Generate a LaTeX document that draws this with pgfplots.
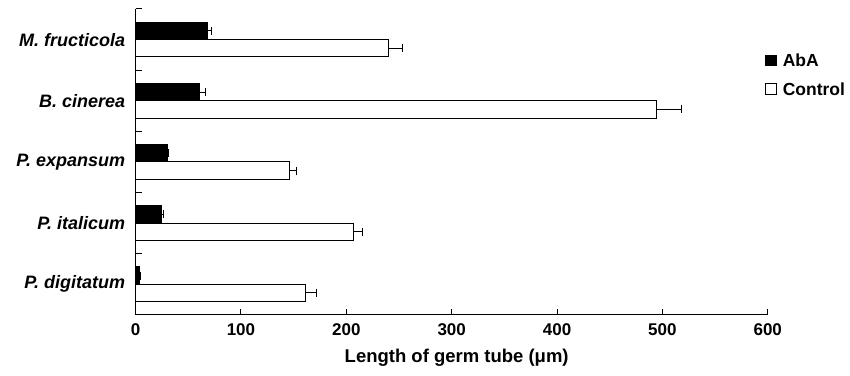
\documentclass[border=0pt]{standalone}
\usepackage{fontspec}
\setmainfont{Liberation Sans}
\usepackage{pgfplots}
\pgfplotsset{compat=1.18}
\begin{document}
\begin{tikzpicture}
\begin{axis}[
  name=ax,
  scale only axis, width=632.6bp, height=306bp,
  xbar, bar width=17.3bp,
  xmin=0, xmax=600, ymin=-0.5, ymax=4.5,
  axis x line*=bottom, axis y line*=left,
  axis line style={-, line width=1bp},
  major tick length=6bp,
  tick style={line width=1bp, black},
  tick align=inside,
  xtick={0,100,...,600},
  /pgf/number format/assume math mode=true,
  xticklabel style={font=\fontsize{17bp}{19bp}\selectfont\bfseries, yshift=-5bp},
  ytick={-0.5,0.5,...,4.5},
  yticklabels={},
  extra y ticks={0,1,2,3,4},
  extra y tick labels={P. digitatum, P. italicum, P. expansum, B. cinerea, M. fructicola},
  extra y tick style={tick style={draw=none},
    yticklabel style={font=\fontsize{18bp}{20bp}\selectfont\bfseries\itshape, xshift=-7bp}},
  xlabel={Length of germ tube (μm)},
  xlabel style={font=\fontsize{18.5bp}{20bp}\selectfont\bfseries, yshift=-7bp, xshift=5bp},
  error bars/error bar style={line width=1bp, black},
  legend style={draw=none, fill=none, at={(rel axis cs:1,1)}, anchor=north west,
    xshift=-6bp, yshift=-41bp,
    font=\fontsize{17.5bp}{19bp}\selectfont\bfseries,
    nodes={inner sep=2bp, text height=12.5bp, text depth=0bp}, row sep=12bp},
  legend cell align=left,
  legend image code/.code={\draw[#1, line width=0.8bp] (0bp,-5.3bp) rectangle (10.7bp,5.3bp); \path (15bp,0bp);},
  clip=false,
]
\addplot[fill=black, draw=black, line width=1bp, bar shift=8.65bp,
  error bars/.cd, x dir=plus, x explicit,
  error mark options={rotate=90, line width=1bp, mark size=4bp, black}]
  coordinates {
  (3.4,0) +- (1.5,0)
  (24.7,1) +- (2,0)
  (30.4,2) +- (1,0)
  (61,3) +- (5,0)
  (68,4) +- (4.5,0)
  };
\addplot[fill=white, draw=black, line width=1bp, bar shift=-8.65bp,
  error bars/.cd, x dir=plus, x explicit,
  error mark options={rotate=90, line width=1bp, mark size=4bp, black}]
  coordinates {
  (161,0) +- (11,0)
  (207,1) +- (8,0)
  (146,2) +- (6.5,0)
  (494,3) +- (24,0)
  (240,4) +- (13,0)
  };
\legend{AbA, Control}
\end{axis}
\path (ax.south west) ++(-135.7bp,-61bp);
\path (ax.north east) ++(81.7bp,9bp);
\end{tikzpicture}
\end{document}
